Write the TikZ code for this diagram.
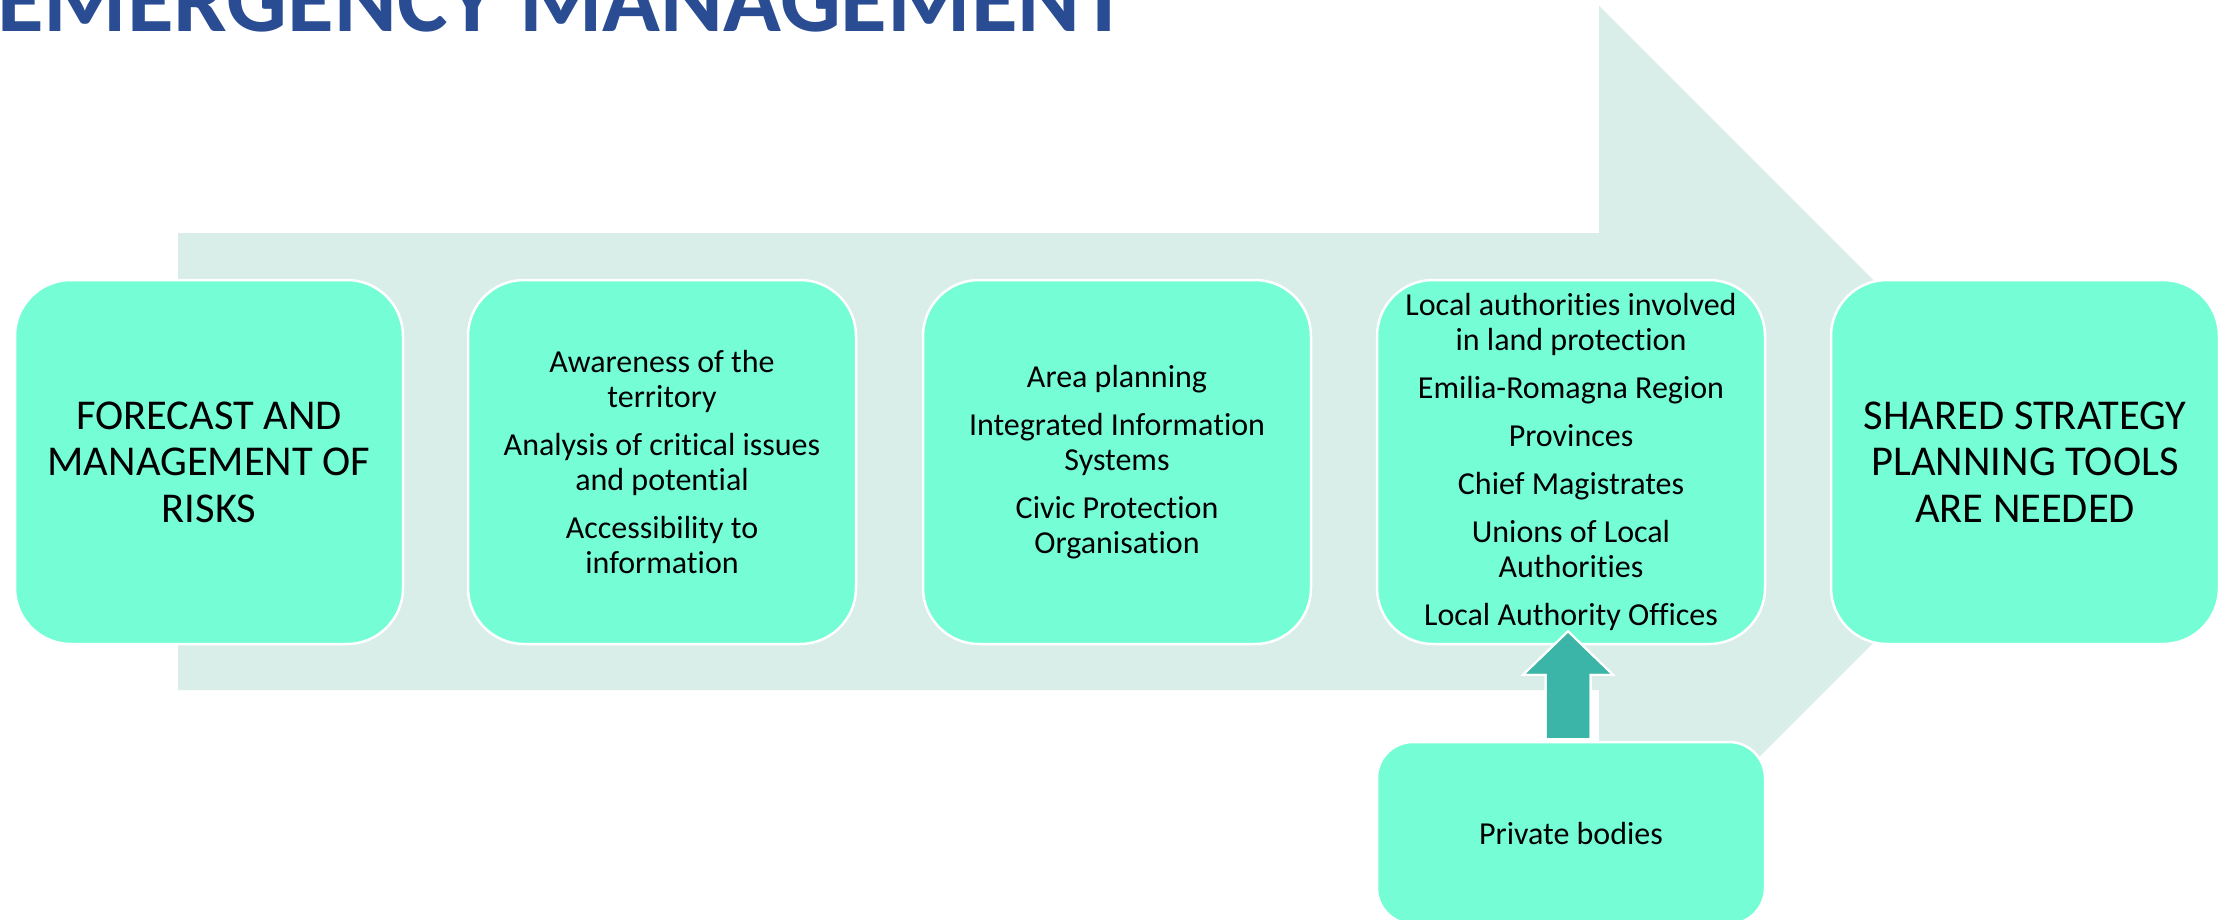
\documentclass[tikz,border=0pt]{standalone}
\usepackage{fontspec}
\setmainfont{Carlito}[Ligatures=NoCommon]
\usetikzlibrary{calc}

\definecolor{titleblue}{RGB}{41,76,147}
\definecolor{flowgrey}{RGB}{217,237,233}
\definecolor{boxmint}{RGB}{117,253,214}
\definecolor{pushteal}{RGB}{59,181,167}

\tikzset{
  stagebox/.style={draw=white, line width=2.5pt, fill=boxmint, rounded corners=56pt,
    minimum width=388pt, minimum height=364pt, align=center, inner sep=0pt, text=black},
  bigtext/.style={font=\fontsize{42.5}{46.5}\selectfont},
  smalltext/.style={font=\fontsize{32}{35}\selectfont},
  sidebox/.style={draw=white, line width=2.5pt, fill=boxmint, rounded corners=36pt,
    minimum width=388pt, minimum height=182pt, align=center, inner sep=0pt, text=black},
  pusharrow/.style={fill=pushteal, draw=white, line width=2pt, line join=miter},
}

\begin{document}
\begin{tikzpicture}[x=1pt, y=-1pt]
  \useasboundingbox (0,0) rectangle (2226,920);
  \clip (0,0) rectangle (2226,920);
  \fill[white] (0,0) rectangle (2226,920);

  % heading, partly above the top edge
  \node[anchor=base west, inner sep=0pt, text=titleblue,
        font=\fontsize{95.5}{100}\selectfont\bfseries] (title) at (-3,32) {EMERGENCY MANAGEMENT};

  % broad flow arrow behind the stages
  \fill[flowgrey] (178,233) -- (1599,233) -- (1599,6) -- (2054.5,461.5)
    -- (1599,917) -- (1599,690) -- (178,690) -- cycle;

  % stages
  \node[stagebox, bigtext] (s1) at (209,462) {FORECAST AND\\MANAGEMENT OF\\RISKS};
  \node[stagebox, smalltext] (s2) at (662,462)
    {Awareness of the\\territory\\[13pt]Analysis of critical issues\\and potential\\[13pt]Accessibility to\\information};
  \node[stagebox, smalltext] (s3) at (1117,462)
    {Area planning\\[13pt]Integrated Information\\Systems\\[13pt]Civic Protection\\Organisation};
  \node[stagebox, smalltext] (s4) at (1571,462)
    {Local authorities involved\\in land protection\\[13pt]Emilia-Romagna Region\\[13pt]Provinces\\[13pt]Chief Magistrates\\[13pt]Unions of Local\\Authorities\\[13pt]Local Authority Offices};
  \node[stagebox, bigtext] (s5) at (2025,462) {SHARED STRATEGY\\PLANNING TOOLS\\ARE NEEDED};

  % private bodies feeding the local authorities
  \node[sidebox, smalltext] (priv) at (1571,833) {Private bodies};

  \coordinate (base) at ($(priv.north)+(-3,-3)$);
  \coordinate (tip) at ($(s4.south)+(-3,-14)$);
  \fill[pusharrow]
    ($(base)+(-22.5,0)$) -- ($(base)+(-22.5,-63)$) -- ($(base)+(-45,-63)$)
    -- (tip) -- ($(base)+(45,-63)$) -- ($(base)+(22.5,-63)$)
    -- ($(base)+(22.5,0)$);
  \draw[white, line width=2pt]
    ($(base)+(-22.5,0)$) -- ($(base)+(-22.5,-63)$) -- ($(base)+(-45,-63)$)
    -- (tip) -- ($(base)+(45,-63)$) -- ($(base)+(22.5,-63)$)
    -- ($(base)+(22.5,0)$);
\end{tikzpicture}
\end{document}
